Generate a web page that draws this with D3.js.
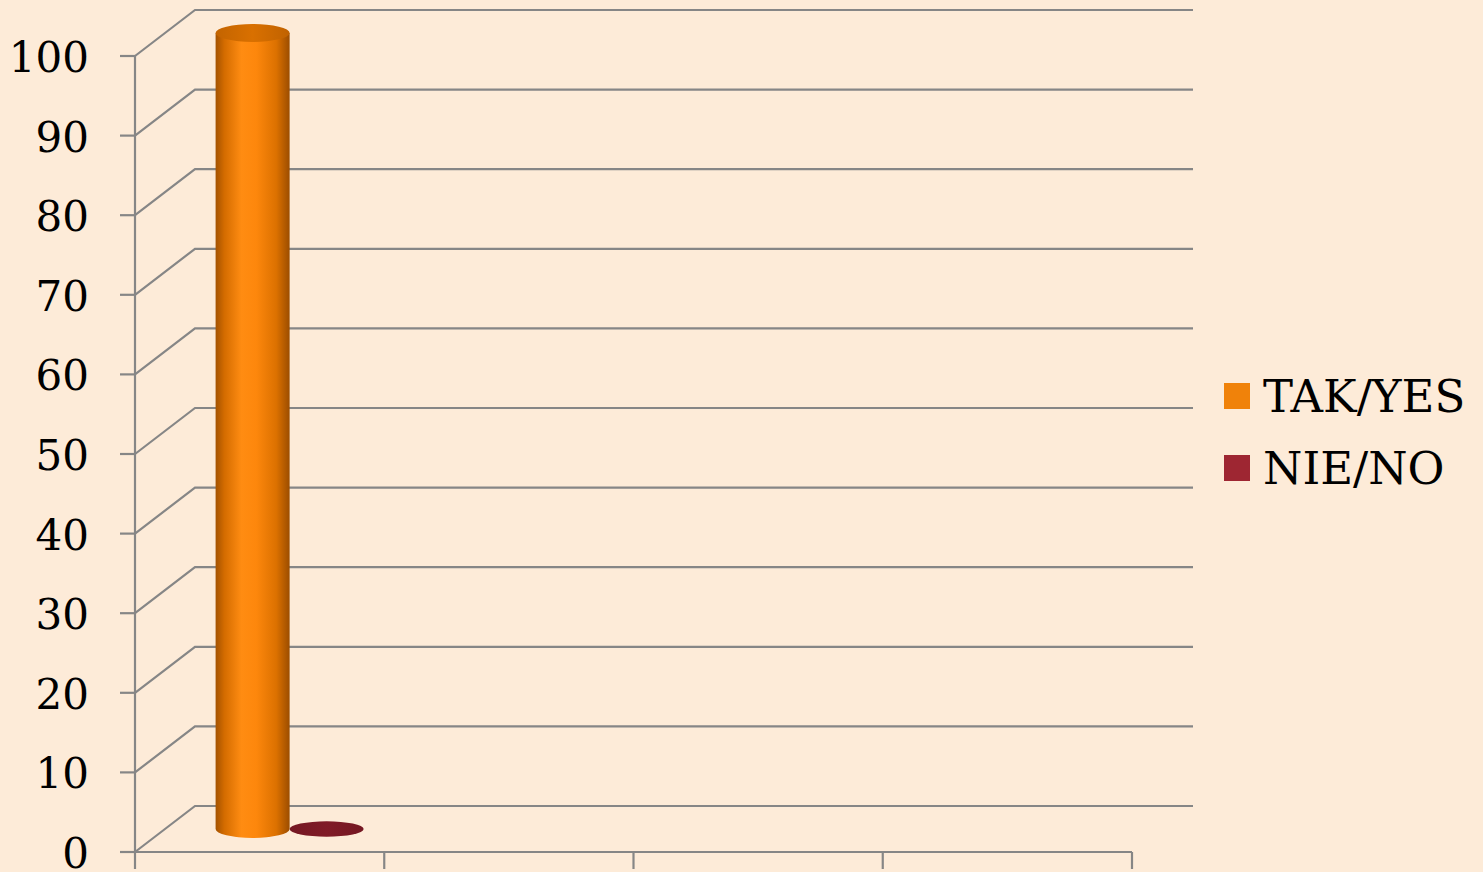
<!DOCTYPE html>
<html>
<head>
<meta charset="utf-8">
<script src="https://cdn.jsdelivr.net/npm/d3@7"></script>
<style>
  html, body { margin: 0; padding: 0; background: #fdebd8; }
  svg { display: block; }
  .tick-label, .legend-label { font-family: "DejaVu Serif", "Liberation Serif", serif; fill: #000; }
</style>
</head>
<body>
<svg id="chart" width="1483" height="872"></svg>
<script>
  // Data
  var CATEGORIES = ["", " ", "  ", "   "];
  var SERIES = ["TAK/YES", "NIE/NO"];
  var TAK_VALUES = [100, null, null, null];
  var NIE_VALUES = [0, null, null, null];
  var Y_TICKS = [0, 10, 20, 30, 40, 50, 60, 70, 80, 90, 100];
  var SERIES_COLORS = ["#f0820a", "#9e2632"];

  // Layout
  var W = 1483, H = 872;
  var FRONT_LEFT = 135, FRONT_RIGHT = 1132;
  var Y_BOTTOM = 852, Y_TOP = 56;
  var DEPTH_X = 60, DEPTH_Y = -46;
  var BACK_RIGHT = 1193;
  var GRID = "#868686";

  var svg = d3.select("#chart");
  svg.append("rect").attr("width", W).attr("height", H).attr("fill", "#fdebd8");

  var y = d3.scaleLinear().domain([0, 100]).range([Y_BOTTOM, Y_TOP]);
  var x0 = d3.scaleBand().domain(CATEGORIES).range([FRONT_LEFT, FRONT_RIGHT]).padding(0);

  var defs = svg.append("defs");
  function cylGrad(id, stops) {
    var g = defs.append("linearGradient").attr("id", id)
      .attr("x1", "0%").attr("x2", "100%").attr("y1", "0%").attr("y2", "0%");
    stops.forEach(function (s) {
      g.append("stop").attr("offset", s[0]).attr("stop-color", s[1]);
    });
  }
  cylGrad("orangeSide", [["0%", "#a45200"], ["12%", "#d46c00"], ["35%", "#ff8c12"], ["55%", "#fd870c"], ["82%", "#dc7100"], ["100%", "#9c4d00"]]);
  cylGrad("orangeTop", [["0%", "#c36400"], ["50%", "#d97000"], ["100%", "#c06200"]]);
  cylGrad("redSide", [["0%", "#5e1019"], ["35%", "#8c1f2b"], ["100%", "#5a0f18"]]);
  cylGrad("redTop", [["0%", "#741722"], ["50%", "#801b27"], ["100%", "#741722"]]);

  var grid = svg.append("g").attr("fill", "none").attr("stroke", GRID).attr("stroke-width", 2.2);

  // Gridlines: front diagonal + back wall line
  grid.selectAll("polyline.grid")
    .data(Y_TICKS)
    .enter().append("polyline")
    .attr("class", "grid")
    .attr("points", function (d) {
      var fy = y(d);
      return [[FRONT_LEFT, fy], [FRONT_LEFT + DEPTH_X, fy + DEPTH_Y], [BACK_RIGHT, fy + DEPTH_Y]]
        .map(function (p) { return p.join(","); }).join(" ");
    });

  // Front y axis + ticks
  grid.append("line").attr("x1", FRONT_LEFT).attr("x2", FRONT_LEFT)
    .attr("y1", y(0)).attr("y2", y(100));
  grid.selectAll("line.ytick")
    .data(Y_TICKS)
    .enter().append("line")
    .attr("class", "ytick")
    .attr("x1", FRONT_LEFT - 15).attr("x2", FRONT_LEFT)
    .attr("y1", function (d) { return y(d); })
    .attr("y2", function (d) { return y(d); });

  // X axis + ticks
  grid.append("line").attr("x1", FRONT_LEFT).attr("x2", FRONT_RIGHT)
    .attr("y1", Y_BOTTOM).attr("y2", Y_BOTTOM);
  var xTicks = CATEGORIES.map(function (c) { return x0(c); }).concat([FRONT_RIGHT]);
  grid.selectAll("line.xtick")
    .data(xTicks)
    .enter().append("line")
    .attr("class", "xtick")
    .attr("x1", function (d) { return d; }).attr("x2", function (d) { return d; })
    .attr("y1", Y_BOTTOM).attr("y2", Y_BOTTOM + 17);

  // Y tick labels
  svg.selectAll("text.tick-label")
    .data(Y_TICKS)
    .enter().append("text")
    .attr("class", "tick-label")
    .attr("x", 89)
    .attr("y", function (d) { return y(d) + 16; })
    .attr("text-anchor", "end")
    .attr("font-size", 42)
    .text(function (d) { return d; });

  // Cylinders, placed at mid-depth
  var MID_X = DEPTH_X / 2, MID_Y = DEPTH_Y / 2;
  var barW = x0.bandwidth() * 0.297;
  var RY = 9;
  var seriesData = [TAK_VALUES, NIE_VALUES];
  var bars = [];
  CATEGORIES.forEach(function (c, ci) {
    var cx = x0(c) + x0.bandwidth() / 2 + MID_X;
    var x1 = d3.scaleBand().domain(SERIES).range([cx - barW, cx + barW]);
    SERIES.forEach(function (s, si) {
      var v = seriesData[si][ci];
      if (v == null) return;
      bars.push({ series: si, x: x1(s), w: x1.bandwidth(), v: v });
    });
  });

  var sideFill = ["url(#orangeSide)", "url(#redSide)"];
  var topFill = ["url(#orangeTop)", "url(#redTop)"];
  var bg = svg.append("g");
  bars.forEach(function (b) {
    var rx = b.w / 2;
    var ccx = b.x + rx;
    var yb = y(0) + MID_Y;
    var yt = y(b.v) + MID_Y;
    var g = bg.append("g");
    if (yb - yt > 0.5) {
      g.append("path")
        .attr("d", "M" + b.x + "," + yt + " L" + b.x + "," + yb +
          " A" + rx + "," + RY + " 0 0 0 " + (b.x + b.w) + "," + yb +
          " L" + (b.x + b.w) + "," + yt + " Z")
        .attr("fill", sideFill[b.series]);
    }
    g.append("ellipse")
      .attr("cx", ccx).attr("cy", yt)
      .attr("rx", rx).attr("ry", yb - yt > 0.5 ? RY : RY * 0.85)
      .attr("fill", topFill[b.series]);
  });

  // Legend
  var legend = svg.append("g").attr("transform", "translate(1224,383)");
  var items = legend.selectAll("g").data(SERIES).enter().append("g")
    .attr("transform", function (d, i) { return "translate(0," + (i * 72) + ")"; });
  items.append("rect").attr("width", 26).attr("height", 26)
    .attr("fill", function (d, i) { return SERIES_COLORS[i]; });
  items.append("text").attr("class", "legend-label")
    .attr("x", 39).attr("y", 29)
    .attr("font-size", 45)
    .text(function (d) { return d; });
</script>
</body>
</html>
